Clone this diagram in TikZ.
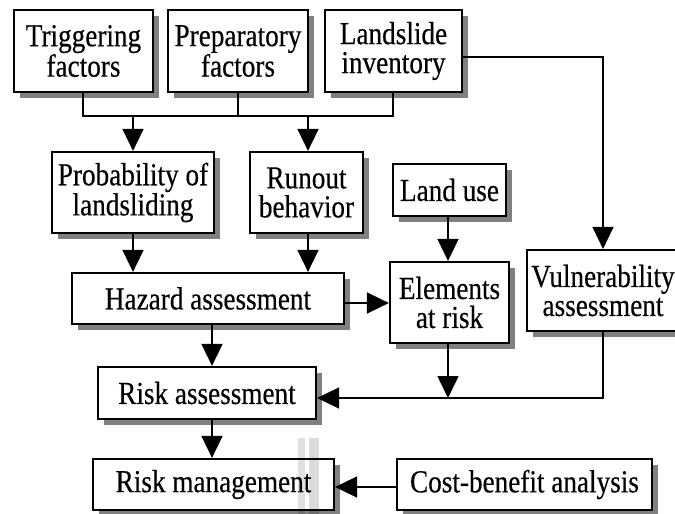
\documentclass[tikz,border=0pt]{standalone}
\usepackage{fontspec}
\setmainfont{Liberation Serif}[FakeStretch=0.85,FakeBold=0.4]
\usetikzlibrary{arrows.meta,shadows}
\begin{document}
\begin{tikzpicture}[x=1pt,y=-1pt,
  box/.style={draw, line width=2.2pt, fill=white, align=center, inner sep=0pt,
    drop shadow={shadow xshift=6pt, shadow yshift=-6pt, fill=black!50, opacity=1},
    font=\fontsize{32}{29}\selectfont},
  link/.style={line width=1.6pt},
  flow/.style={link, -{Triangle[width=21pt,length=22pt]}}]
\useasboundingbox (0,0) rectangle (675,514);

% top row: inputs
\node[box, minimum width=139pt, minimum height=82pt] (trig) at (83.5,51) {Triggering\\factors};
\node[box, minimum width=140pt, minimum height=82pt] (prep) at (238,51) {Preparatory\\factors};
\node[box, minimum width=137pt, minimum height=82pt] (inv) at (393.5,51) {Landslide\\inventory};

% second row
\node[box, minimum width=162pt, minimum height=81pt] (prob) at (133,192.5) {Probability of\\landsliding};
\node[box, minimum width=113pt, minimum height=81pt] (run) at (306.5,192.5) {Runout\\behavior};
\node[box, minimum width=113pt, minimum height=52pt] (land) at (449.5,190) {Land use};

% assessment row
\node[box, minimum width=272pt, minimum height=51pt] (haz) at (208,298.5) {Hazard assessment};
\node[box, minimum width=119pt, minimum height=81pt] (elem) at (449.5,302.5) {Elements\\at risk};
\node[box, minimum width=152pt, minimum height=81pt] (vul) at (603,290.5) {Vulnerability\\assessment};

% risk chain
\node[box, minimum width=218pt, minimum height=52pt] (risk) at (207,393) {Risk assessment};
\node[box, minimum width=241pt, minimum height=51pt] (mgmt) at (213.5,484.5) {Risk management};
\node[box, minimum width=255pt, minimum height=51pt] (cost) at (524.5,484.5) {Cost-benefit analysis};

% collector bar under the input boxes
\coordinate (barL) at (83,116);
\coordinate (barR) at (393,116);
\draw[link] (trig.south -| barL) -- (barL) -- (barR) -- (inv.south -| barR);
\draw[link] (prep.south) -- (prep.south |- barL);
\coordinate (tapA) at (133,116);
\coordinate (tapB) at (308,116);
\draw[flow] (tapA) -- (tapA |- prob.north);
\draw[flow] (tapB) -- (tapB |- run.north);

% inventory to vulnerability
\coordinate (invOut) at (462,57);
\coordinate (invTurn) at (603,57);
\draw[flow] (invOut) -- (invTurn) -- (vul.north);

% into hazard assessment
\draw[flow] (prob.south) -- (prob.south |- haz.north);
\draw[flow] (tapB |- run.south) -- (tapB |- haz.north);

% elements at risk inputs
\draw[flow] (448,216) coordinate (luOut) -- (luOut |- elem.north);
\coordinate (hzOut) at (344,303);
\draw[flow] (hzOut) -- (hzOut -| elem.west);

% into risk assessment
\coordinate (hzDown) at (212,324);
\draw[flow] (hzDown) -- (hzDown |- risk.north);
\coordinate (joinY) at (448,398);
\draw[flow] (joinY |- elem.south) -- (joinY);
\coordinate (vulTurn) at (603,398);
\draw[flow] (vul.south) -- (vulTurn) -- (vulTurn -| risk.east);

% into risk management
\draw[flow] (hzDown |- risk.south) -- (hzDown |- mgmt.north);
\coordinate (cbY) at (397,487);
\draw[flow] (cbY) -- (cbY -| mgmt.east);

% faint vertical streaks over the lower boxes
\fill[black, opacity=0.12] (298,438) rectangle (305,514);
\fill[black, opacity=0.14] (309,438) rectangle (319,514);
\end{tikzpicture}
\end{document}
